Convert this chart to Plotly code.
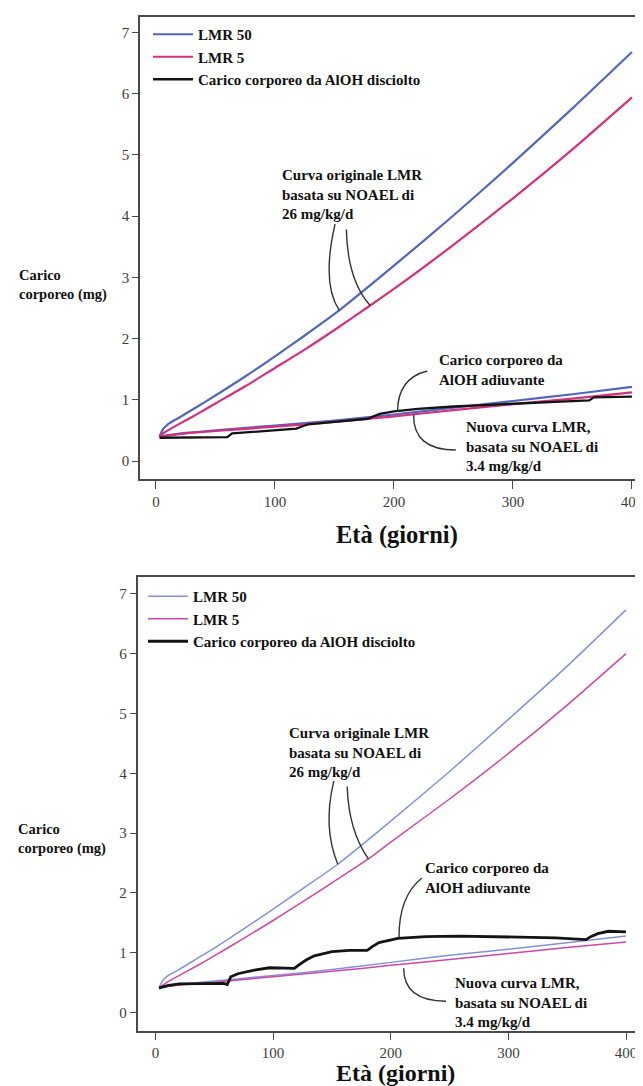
import plotly.graph_objects as go

# ---------------- data ----------------
# Top panel
top_lmr50_x = [3, 6, 10, 20, 35, 50, 75, 100, 125, 154, 200, 250, 300, 350, 400]
top_lmr50_y = [0.40, 0.52, 0.60, 0.715, 0.89, 1.07, 1.38, 1.71, 2.05, 2.46, 3.19, 4.01, 4.87, 5.76, 6.68]
top_lmr5_x = [3, 6, 10, 20, 35, 50, 75, 100, 125, 150, 180, 200, 250, 300, 350, 400]
top_lmr5_y = [0.40, 0.45, 0.50, 0.61, 0.77, 0.94, 1.22, 1.52, 1.82, 2.14, 2.54, 2.81, 3.53, 4.29, 5.09, 5.94]
top_new50_x = [3, 25, 50, 100, 150, 200, 250, 300, 350, 400]
top_new50_y = [0.40, 0.46, 0.50, 0.58, 0.66, 0.76, 0.87, 0.98, 1.09, 1.21]
top_new5_x = [3, 25, 50, 100, 150, 200, 250, 300, 350, 400]
top_new5_y = [0.40, 0.45, 0.49, 0.56, 0.64, 0.73, 0.83, 0.93, 1.02, 1.12]
top_alo_x = [3, 60, 64, 90, 118, 122, 128, 150, 178, 182, 188, 200, 220, 250, 300, 340, 364, 368, 400]
top_alo_y = [0.38, 0.39, 0.45, 0.49, 0.53, 0.56, 0.60, 0.64, 0.69, 0.72, 0.77, 0.81, 0.85, 0.89, 0.94, 0.97, 0.99, 1.04, 1.05]

# Bottom panel
bot_lmr50_x = [3, 6, 10, 20, 35, 50, 75, 100, 125, 155, 200, 250, 300, 350, 400]
bot_lmr50_y = [0.42, 0.53, 0.61, 0.72, 0.90, 1.08, 1.40, 1.73, 2.07, 2.48, 3.20, 4.03, 4.90, 5.79, 6.73]
bot_lmr5_x = [3, 10, 20, 35, 50, 75, 100, 125, 150, 181, 200, 250, 300, 350, 400]
bot_lmr5_y = [0.42, 0.51, 0.62, 0.78, 0.95, 1.24, 1.54, 1.85, 2.17, 2.57, 2.85, 3.57, 4.33, 5.14, 6.00]
bot_new50_x = [3, 25, 50, 100, 150, 200, 250, 300, 350, 400]
bot_new50_y = [0.42, 0.48, 0.53, 0.62, 0.72, 0.84, 0.96, 1.06, 1.17, 1.28]
bot_new5_x = [3, 25, 50, 100, 150, 200, 250, 300, 350, 400]
bot_new5_y = [0.42, 0.47, 0.51, 0.60, 0.69, 0.79, 0.89, 0.99, 1.09, 1.18]
bot_alo_x = [3, 10, 20, 40, 58, 61, 64, 70, 84, 97, 110, 118, 122, 128, 135, 150, 165, 180, 184, 190,
             206, 230, 258, 300, 340, 366, 370, 376, 385, 400]
bot_alo_y = [0.41, 0.45, 0.48, 0.49, 0.49, 0.47, 0.60, 0.65, 0.71, 0.75, 0.75, 0.74, 0.80, 0.88, 0.95, 1.02,
             1.04, 1.04, 1.10, 1.17, 1.24, 1.27, 1.28, 1.27, 1.25, 1.22, 1.27, 1.32, 1.36, 1.35]

series_names = ["LMR 50", "LMR 5", "Carico corporeo da AlOH disciolto"]
x_ticks = [0, 100, 200, 300, 400]
y_ticks = [0, 1, 2, 3, 4, 5, 6, 7]

# ---------------- styling ----------------
W, H = 643, 1086
SERIF = "Liberation Serif, Times New Roman, serif"
BLUE_T, MAG_T = "#5166bd", "#d3307f"
BLUE_B, MAG_B = "#8293d4", "#cc47a6"
BLACK = "#141414"
AXC = "#4a4a4a"


def px(v):
    return v / W


def py(v):
    return 1 - v / H


fig = go.Figure()


def add_panel(xa, ya, leg, blue, mag, w_col, w_blk, d):
    (l50x, l50y, l5x, l5y, n50x, n50y, n5x, n5y, ax, ay) = d
    fig.add_trace(go.Scatter(x=l50x, y=l50y, mode="lines", name=series_names[0],
                             line=dict(color=blue, width=w_col, shape="spline", smoothing=0.6),
                             xaxis=xa, yaxis=ya, legend=leg))
    fig.add_trace(go.Scatter(x=l5x, y=l5y, mode="lines", name=series_names[1],
                             line=dict(color=mag, width=w_col, shape="spline", smoothing=0.6),
                             xaxis=xa, yaxis=ya, legend=leg))
    fig.add_trace(go.Scatter(x=n50x, y=n50y, mode="lines", showlegend=False,
                             line=dict(color=blue, width=w_col, shape="spline", smoothing=0.6),
                             xaxis=xa, yaxis=ya))
    fig.add_trace(go.Scatter(x=n5x, y=n5y, mode="lines", showlegend=False,
                             line=dict(color=mag, width=w_col, shape="spline", smoothing=0.6),
                             xaxis=xa, yaxis=ya))
    fig.add_trace(go.Scatter(x=ax, y=ay, mode="lines", name=series_names[2],
                             line=dict(color=BLACK, width=w_blk),
                             xaxis=xa, yaxis=ya, legend=leg))


add_panel("x", "y", "legend", BLUE_T, MAG_T, 2.2, 2.3,
          (top_lmr50_x, top_lmr50_y, top_lmr5_x, top_lmr5_y, top_new50_x, top_new50_y,
           top_new5_x, top_new5_y, top_alo_x, top_alo_y))
add_panel("x2", "y2", "legend2", BLUE_B, MAG_B, 1.5, 2.8,
          (bot_lmr50_x, bot_lmr50_y, bot_lmr5_x, bot_lmr5_y, bot_new50_x, bot_new50_y,
           bot_new5_x, bot_new5_y, bot_alo_x, bot_alo_y))

tickfont = dict(family=SERIF, size=15, color="#3c3c3c")
common_x = dict(tickvals=x_ticks, ticks="outside", ticklen=8, tickwidth=1.3, tickcolor=AXC,
                showline=True, linecolor=AXC, linewidth=1.6, showgrid=False, zeroline=False,
                tickfont=tickfont, mirror=True, ticklabeloverflow="allow")
common_y = dict(tickvals=y_ticks, ticks="outside", ticklen=6, tickwidth=1.3, tickcolor=AXC,
                showline=True, linecolor=AXC, linewidth=1.6, showgrid=False, zeroline=False,
                tickfont=tickfont)

legfont = dict(family=SERIF, size=15, color="#111", weight="bold")

fig.update_layout(
    width=W, height=H,
    margin=dict(l=0, r=0, t=0, b=0),
    paper_bgcolor="white", plot_bgcolor="white",
    xaxis=dict(common_x, domain=[px(132), 1.0], range=[-13.4, 416], anchor="y"),
    yaxis=dict(common_y, domain=[py(471), py(8.5)], range=[-0.294, 7.26], anchor="x", mirror=False),
    xaxis2=dict(common_x, domain=[px(129.5), px(638)], range=[-15.3, 417], anchor="y2"),
    yaxis2=dict(common_y, domain=[py(1022.6), py(569)], range=[-0.30, 7.28], anchor="x2", mirror=True),
    legend=dict(x=px(140), y=py(10), xanchor="left", yanchor="top", font=legfont, itemwidth=40,
                bgcolor="rgba(0,0,0,0)", traceorder="grouped", tracegroupgap=0),
    legend2=dict(x=px(135), y=py(572), xanchor="left", yanchor="top", font=legfont, itemwidth=40,
                 bgcolor="rgba(0,0,0,0)", traceorder="grouped", tracegroupgap=2),
    showlegend=True,
)

annfont = dict(family=SERIF, size=15, color="#111", weight="bold")


def note(text, x, y, xr, yr):
    fig.add_annotation(text=text, x=x, y=y, xref=xr, yref=yr, showarrow=False,
                       xanchor="left", yanchor="top", align="left", font=annfont)


def leader(path, xr, yr):
    fig.add_shape(type="path", path=path, xref=xr, yref=yr,
                  line=dict(color="#333", width=1.4))


# Top panel annotations
note("Curva originale LMR<br>basata su NOAEL di<br>26 mg/kg/d", 104, 4.83, "x", "y")
note("Carico corporeo da<br>AlOH adiuvante", 236, 1.82, "x", "y")
note("Nuova curva LMR,<br>basata su NOAEL di<br>3.4 mg/kg/d", 259, 0.72, "x", "y")
leader("M 150.5,3.87 Q 139,2.9 154,2.46", "x", "y")
leader("M 160,3.78 Q 161,2.95 180,2.54", "x", "y")
leader("M 228,1.47 Q 203,1.35 203,0.80", "x", "y")
leader("M 216.5,0.76 Q 216,0.18 252,0.18", "x", "y")

# Bottom panel annotations
note("Curva originale LMR<br>basata su NOAEL di<br>26 mg/kg/d", 112, 4.84, "x2", "y2")
note("Carico corporeo da<br>AlOH adiuvante", 227, 2.59, "x2", "y2")
note("Nuova curva LMR,<br>basata su NOAEL di<br>3.4 mg/kg/d", 253, 0.66, "x2", "y2")
leader("M 151.6,3.87 Q 142,3.1 155,2.48", "x2", "y2")
leader("M 163,3.78 Q 164,3.05 181,2.57", "x2", "y2")
leader("M 226.5,2.25 Q 207,1.95 207,1.26", "x2", "y2")
leader("M 211,0.74 Q 211,0.19 247,0.19", "x2", "y2")

# Axis titles (paper positioned)
ylab = "Carico<br>corporeo (mg)"
fig.add_annotation(text=ylab, x=px(9), y=py(277), xref="paper", yref="paper", showarrow=False,
                   xanchor="left", yanchor="middle", align="left",
                   font=dict(family=SERIF, size=14.5, color="#111", weight="bold"))
fig.add_annotation(text=ylab, x=px(8), y=py(831), xref="paper", yref="paper", showarrow=False,
                   xanchor="left", yanchor="middle", align="left",
                   font=dict(family=SERIF, size=14.5, color="#111", weight="bold"))
xlab = "Età (giorni)"
fig.add_annotation(text=xlab, x=px(389), y=py(527), xref="paper", yref="paper", showarrow=False,
                   xanchor="center", yanchor="middle",
                   font=dict(family=SERIF, size=24.5, color="#111", weight="bold"))
fig.add_annotation(text=xlab, x=px(387), y=py(1065), xref="paper", yref="paper", showarrow=False,
                   xanchor="center", yanchor="middle",
                   font=dict(family=SERIF, size=24, color="#111", weight="bold"))

fig.write_html("out.html")
